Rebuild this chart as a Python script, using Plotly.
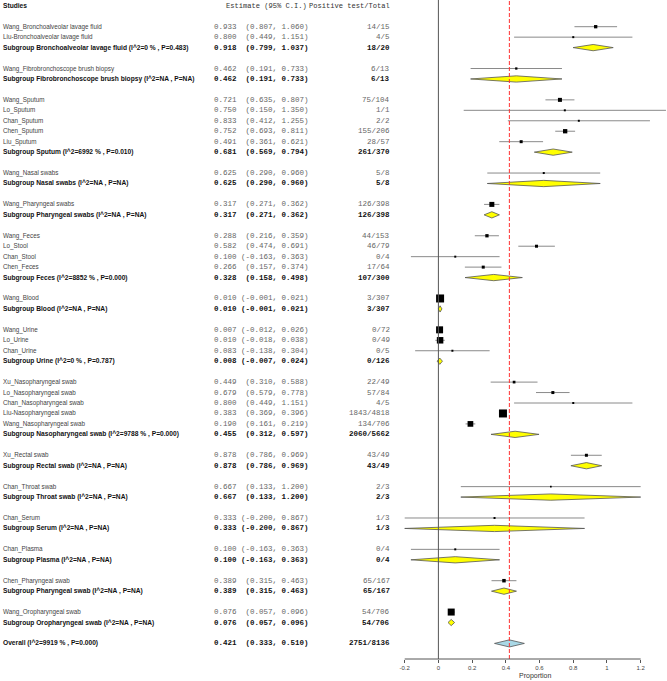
import plotly.graph_objects as go

# ---------------- data ----------------
group_names = ["Bronchoalveolar lavage fluid", "Fibrobronchoscope brush biopsy", "Sputum",
               "Nasal swabs", "Pharyngeal swabs", "Feces", "Blood", "Urine",
               "Nasopharyngeal swab", "Rectal swab", "Throat swab", "Serum", "Plasma",
               "Pharyngeal swab", "Oropharyngeal swab"]
group_i2 = ["0 %", "NA", "6992 %", "NA", "NA", "8852 %", "NA", "0 %", "9788 %",
            "NA", "NA", "NA", "NA", "NA", "NA"]
group_p = ["0.483", "NA", "0.010", "NA", "NA", "0.000", "NA", "0.787", "0.000",
           "NA", "NA", "NA", "NA", "NA", "NA"]
group_est = [0.918, 0.462, 0.681, 0.625, 0.317, 0.328, 0.010, 0.008, 0.455, 0.878, 0.667, 0.333, 0.100, 0.389, 0.076]
group_lo = [0.799, 0.191, 0.569, 0.290, 0.271, 0.158, -0.001, -0.007, 0.312, 0.786, 0.133, -0.200, -0.163, 0.315, 0.057]
group_hi = [1.037, 0.733, 0.794, 0.960, 0.362, 0.498, 0.021, 0.024, 0.597, 0.969, 1.200, 0.867, 0.363, 0.463, 0.096]
group_pos = [18, 6, 261, 5, 126, 107, 3, 0, 2060, 43, 2, 1, 0, 65, 54]
group_tot = [20, 13, 370, 8, 398, 300, 307, 126, 5662, 49, 3, 3, 4, 167, 706]

study_names = ["Wang_Bronchoalveolar lavage fluid", "Liu-Bronchoalveolar lavage fluid",
               "Wang_Fibrobronchoscope brush biopsy",
               "Wang_Sputum", "Lo_Sputum", "Chan_Sputum", "Chen_Sputum", "Liu_Sputum",
               "Wang_Nasal swabs", "Wang_Pharyngeal swabs",
               "Wang_Feces", "Lo_Stool", "Chan_Stool", "Chen_Feces",
               "Wang_Blood",
               "Wang_Urine", "Lo_Urine", "Chan_Urine",
               "Xu_Nasopharyngeal swab", "Lo_Nasopharyngeal swab", "Chan_Nasopharyngeal swab",
               "Liu-Nasopharyngeal swab", "Wang_Nasopharyngeal swab",
               "Xu_Rectal swab", "Chan_Throat swab", "Chan_Serum", "Chan_Plasma",
               "Chen_Pharyngeal swab", "Wang_Oropharyngeal swab"]
study_group = [0, 0, 1, 2, 2, 2, 2, 2, 3, 4, 5, 5, 5, 5, 6, 7, 7, 7, 8, 8, 8, 8, 8, 9, 10, 11, 12, 13, 14]
study_est = [0.933, 0.800, 0.462, 0.721, 0.750, 0.833, 0.752, 0.491, 0.625, 0.317,
             0.288, 0.582, 0.100, 0.266, 0.010, 0.007, 0.010, 0.083,
             0.449, 0.679, 0.800, 0.383, 0.190, 0.878, 0.667, 0.333, 0.100, 0.389, 0.076]
study_lo = [0.807, 0.449, 0.191, 0.635, 0.150, 0.412, 0.693, 0.361, 0.290, 0.271,
            0.216, 0.474, -0.163, 0.157, -0.001, -0.012, -0.018, -0.138,
            0.310, 0.579, 0.449, 0.369, 0.161, 0.786, 0.133, -0.200, -0.163, 0.315, 0.057]
study_hi = [1.060, 1.151, 0.733, 0.807, 1.350, 1.255, 0.811, 0.621, 0.960, 0.362,
            0.359, 0.691, 0.363, 0.374, 0.021, 0.026, 0.038, 0.304,
            0.588, 0.778, 1.151, 0.396, 0.219, 0.969, 1.200, 0.867, 0.363, 0.463, 0.096]
study_pos = [14, 4, 6, 75, 1, 2, 155, 28, 5, 126, 44, 46, 0, 17, 3, 0, 0, 0,
             22, 57, 4, 1843, 134, 43, 2, 1, 0, 65, 54]
study_tot = [15, 5, 13, 104, 1, 2, 206, 57, 8, 398, 153, 79, 4, 64, 307, 72, 49, 5,
             49, 84, 5, 4818, 706, 49, 3, 3, 4, 167, 706]

overall_label = "Overall (I^2=9919 % , P=0.000)"
overall_est, overall_lo, overall_hi = 0.421, 0.333, 0.510
overall_pos, overall_tot = 2751, 8136

col_headers = ["Studies", "Estimate (95% C.I.)", "Positive test/Total"]
tick_vals = [-0.2, 0, 0.2, 0.4, 0.6, 0.8, 1, 1.2]
tick_text = ["-0.2", "0", "0.2", "0.4", "0.6", "0.8", "1", "1.2"]
axis_title = "Proportion"

# ---------------- styles ----------------
square_px = [3.3, 2, 2.3, 4, 2, 2, 4.3, 3, 2, 5, 3.3, 3, 2, 3, 8, 7, 6.5, 2,
             2.7, 3, 2, 8, 5.7, 3, 1.7, 2, 2, 3.5, 7]

W, H = 667, 681
X0_PX, PX_PER_UNIT = 438.4, 168.57
ROW0_PX, ROW_PX = 5.79, 10.453
PLOT_BOTTOM = 659


def px2x(px):
    return (px - X0_PX) / PX_PER_UNIT


def px2row(py):
    return (py - ROW0_PX) / ROW_PX


def nb(s):
    return s.replace(" ", "\u00a0")


def est_text(e, l, h):
    return nb(f"{e:.3f} " + f"({l:.3f},".rjust(8) + f" {h:.3f})")


rows = []
row = 2
for g in range(len(group_names)):
    for i, sg in enumerate(study_group):
        if sg == g:
            rows.append(("study", row, study_names[i], study_est[i], study_lo[i], study_hi[i],
                         study_pos[i], study_tot[i], square_px[i]))
            row += 1
    lab = f"Subgroup {group_names[g]} (I^2={group_i2[g]} , P={group_p[g]})"
    rows.append(("sub", row, lab, group_est[g], group_lo[g], group_hi[g], group_pos[g], group_tot[g], 0))
    row += 2
rows.append(("overall", row, overall_label, overall_est, overall_lo, overall_hi, overall_pos, overall_tot, 0))

fig = go.Figure()

sx, sy, ss = [], [], []
lx, ly = [], []
for k, r, lab, e, l, h, p, t, s in rows:
    if k == "study":
        sx.append(e); sy.append(r); ss.append(s)
        lx += [l, h, None]; ly += [r, r, None]
fig.add_trace(go.Scatter(x=lx, y=ly, mode="lines", line=dict(color="#8a8a8a", width=1),
                         hoverinfo="skip"))
fig.add_trace(go.Scatter(x=sx, y=sy, mode="markers",
                         marker=dict(symbol="square", size=ss, color="black", opacity=1,
                                     line=dict(width=0)),
                         hoverinfo="skip"))

HALF = 0.30
for k, r, lab, e, l, h, p, t, s in rows:
    if k in ("sub", "overall"):
        hh = HALF if k == "sub" else 0.34
        fig.add_trace(go.Scatter(x=[l, e, h, e, l], y=[r, r - hh, r, r + hh, r],
                                 mode="lines", fill="toself",
                                 fillcolor="#ffff00" if k == "sub" else "#a9d8e6",
                                 line=dict(color="#555555", width=0.8), hoverinfo="skip"))

SANS = "Liberation Sans, Arial, sans-serif"
MONO = "Liberation Mono, Courier New, monospace"
ann = []
MFS = 7.5
BFS = 6.65
RFS = 6.3


def add_text(px, r, txt, anchor, family, size, color, bold=False):
    ann.append(dict(x=px / W, xref="paper", y=r, yref="y", text=(f"<b>{txt}</b>" if bold else txt),
                    showarrow=False, xanchor=anchor, yanchor="middle",
                    font=dict(family=family, size=size, color=color), borderpad=0))


add_text(2, 0, col_headers[0], "left", SANS, BFS, "#111", bold=True)
add_text(307.5, 0, nb(col_headers[1]), "right", MONO, 7.1, "#333")
add_text(391, 0, nb(col_headers[2]), "right", MONO, 7.1, "#333")

for k, r, lab, e, l, h, p, t, s in rows:
    bold = k != "study"
    c1 = "#111" if bold else "#444"
    c2 = "#111" if bold else "#666"
    if bold:
        add_text(2, r, lab, "left", SANS, BFS, c1, True)
    else:
        add_text(2, r, lab, "left", SANS, RFS, c1, False)
    add_text(213, r, est_text(e, l, h), "left", MONO, MFS, c2, bold)
    add_text(391, r, f"{p}/{t}", "right", MONO, MFS, c2, bold)

ann.append(dict(x=535 / W, xref="paper", y=-(676 - PLOT_BOTTOM) / PLOT_BOTTOM, yref="paper",
                text=axis_title, showarrow=False, xanchor="center", yanchor="middle",
                font=dict(family=SANS, size=7, color="#333")))

shapes = [
    dict(type="line", xref="x", yref="paper", x0=0, x1=0, y0=0, y1=1,
         line=dict(color="#555555", width=1)),
    dict(type="line", xref="x", yref="paper", x0=overall_est, x1=overall_est, y0=0, y1=1,
         line=dict(color="#ff3030", width=1, dash="4px,2px")),
    dict(type="line", xref="x", yref="paper", x0=tick_vals[0], x1=tick_vals[-1], y0=0, y1=0,
         line=dict(color="#555555", width=1)),
]

fig.update_layout(
    width=W, height=H, showlegend=False,
    margin=dict(l=0, r=0, t=0, b=H - PLOT_BOTTOM, pad=0),
    paper_bgcolor="white", plot_bgcolor="white",
    annotations=ann, shapes=shapes,
    xaxis=dict(range=[px2x(0), px2x(W)], showgrid=False, zeroline=False, showline=False,
               tickvals=tick_vals, ticktext=tick_text, ticks="outside", ticklen=3,
               tickcolor="#555555", tickwidth=1,
               tickfont=dict(family=SANS, size=6, color="#444")),
    yaxis=dict(range=[px2row(PLOT_BOTTOM), px2row(0)], showgrid=False, zeroline=False,
               showline=False, showticklabels=False, ticks=""),
)

fig.write_html("out.html", config={"displayModeBar": False},
               post_script="document.body.style.margin='0px';document.body.style.overflow='hidden';")
